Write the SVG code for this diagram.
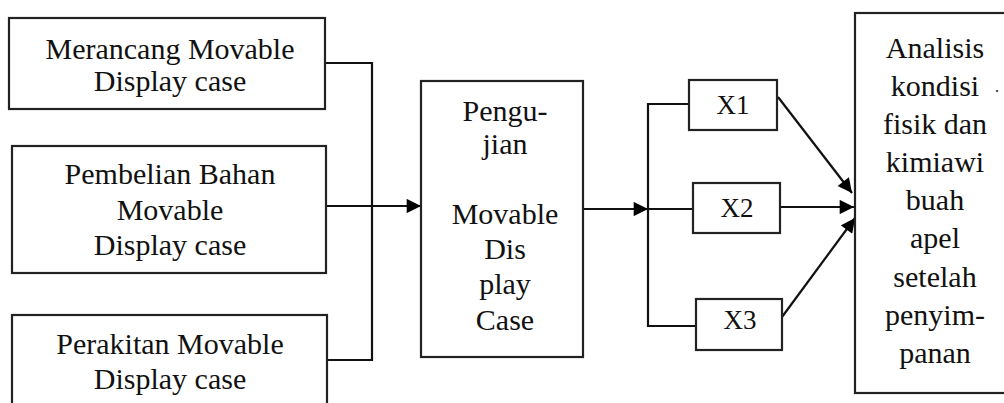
<svg xmlns="http://www.w3.org/2000/svg" width="1004" height="403" viewBox="0 0 1004 403">
<defs>
<style>
.box{fill:#fff;stroke:#222;stroke-width:2.2}
.t{font-family:"Liberation Serif","Times New Roman",serif;font-size:30px;fill:#111;text-anchor:middle}
.x{font-family:"Liberation Serif","Times New Roman",serif;font-size:27px;fill:#111;text-anchor:middle}
.c{fill:none;stroke:#111;stroke-width:2.2}
</style>
<marker id="ah" viewBox="0 0 10 10" refX="10" refY="5" markerWidth="7.5" markerHeight="6.5" markerUnits="strokeWidth" orient="auto">
<path d="M0,0 L10,5 L0,10 Z" fill="#000"/>
</marker>
</defs>
<rect width="1004" height="403" fill="#fff"/>
<g id="connectors">
<polyline class="c" points="325,63 372,63 372,360 327,360"/>
<line class="c" x1="326" y1="206" x2="372" y2="206"/>
<line class="c" x1="372" y1="206" x2="421" y2="206" marker-end="url(#ah)"/>
<line class="c" x1="583" y1="209" x2="648" y2="209" marker-end="url(#ah)"/>
<polyline class="c" points="689,104 648,104 648,326 696,326"/>
<line class="c" x1="648" y1="209" x2="693" y2="209"/>
<line class="c" x1="778" y1="97" x2="852" y2="193" marker-end="url(#ah)"/>
<line class="c" x1="780" y1="207" x2="854" y2="207" marker-end="url(#ah)"/>
<line class="c" x1="782" y1="317" x2="855" y2="218" marker-end="url(#ah)"/>
</g>
<g id="n1">
<rect class="box" x="9" y="18" width="316" height="91"/>
<text class="t" x="170" y="59">Merancang Movable</text>
<text class="t" x="170" y="91">Display case</text>
</g>
<g id="n2">
<rect class="box" x="12" y="146" width="314" height="127"/>
<text class="t" x="170" y="184">Pembelian Bahan</text>
<text class="t" x="170" y="220">Movable</text>
<text class="t" x="170" y="255">Display case</text>
</g>
<g id="n3">
<rect class="box" x="12" y="315" width="315" height="100"/>
<text class="t" x="170" y="354">Perakitan Movable</text>
<text class="t" x="170" y="389">Display case</text>
</g>
<g id="n4">
<rect class="box" x="421" y="81" width="162" height="276"/>
<text class="t" x="505" y="121">Pengu-</text>
<text class="t" x="505" y="154">jian</text>
<text class="t" x="505" y="224">Movable</text>
<text class="t" x="505" y="259">Dis</text>
<text class="t" x="505" y="294">play</text>
<text class="t" x="505" y="330">Case</text>
</g>
<g id="x1">
<rect class="box" x="689" y="80" width="88" height="50"/>
<text class="x" x="733" y="114">X1</text>
</g>
<g id="x2">
<rect class="box" x="693" y="183" width="87" height="50"/>
<text class="x" x="737" y="217">X2</text>
</g>
<g id="x3">
<rect class="box" x="696" y="299" width="86" height="51"/>
<text class="x" x="740" y="329">X3</text>
</g>
<g id="n5">
<rect class="box" x="855" y="13" width="165" height="380"/>
<text class="t" x="935" y="58">Analisis</text>
<text class="t" x="935" y="96">kondisi</text>
<text class="t" x="935" y="134">fisik dan</text>
<text class="t" x="935" y="172">kimiawi</text>
<text class="t" x="935" y="210">buah</text>
<text class="t" x="935" y="248">apel</text>
<text class="t" x="935" y="287">setelah</text>
<text class="t" x="935" y="325">penyim-</text>
<text class="t" x="935" y="363">panan</text>
<text class="x" x="997" y="92" style="font-size:16px">.</text>
</g>
</svg>
